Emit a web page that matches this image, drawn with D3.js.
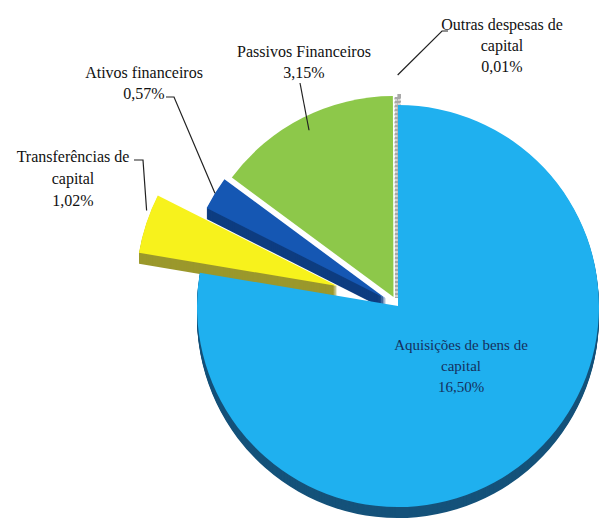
<!DOCTYPE html>
<html>
<head>
<meta charset="utf-8">
<script src="https://cdn.jsdelivr.net/npm/d3@7"></script>
<style>
  html, body { margin: 0; padding: 0; background: #fff; }
</style>
</head>
<body>
<div id="chart"></div>
<script>
// data (order = clockwise from 12 o'clock)
var categories = ['Aquisições de bens de capital', 'Transferências de capital', 'Ativos financeiros', 'Passivos Financeiros', 'Outras despesas de capital'];
var values = [16.50, 1.02, 0.57, 3.15, 0.01];
var labelRows = [
  ['Aquisições de bens de', 'capital'],
  ['Transferências de', 'capital'],
  ['Ativos financeiros'],
  ['Passivos Financeiros'],
  ['Outras despesas de', 'capital']
];

// styles
var topColors = ['#1fb0ef', '#f7f21c', '#1557b3', '#8dc84a', '#a8a8a8'];
var sideColors = ['#15527a', '#9b982c', '#0e3d80', null, null];
var explode = [0, 64, 14, 10, 8];
var drawOrder = [3, 4, 2, 1, 0]; // back to front

var width = 601, height = 525;
var cx = 398, cy = 306, radius = 201, depth = 11;
var fontFamily = '"Liberation Serif", "DejaVu Serif", "Times New Roman", serif';

// label layout: text centre x, first baseline, line height, leader points (text end, elbow), leader tip (radius delta, fraction along slice)
var labelLayout = [
  {x: 461, y: 350, lh: 21, fill: '#15305e', size: 15, leader: null},
  {x: 73, y: 162, lh: 22, fill: '#111', size: 16, leader: [[134, 160], [143, 160]], tipR: 4, tipF: 0.7},
  {x: 144, y: 78, lh: 21, fill: '#111', size: 16, leader: [[166, 97], [174, 97]], tipR: 0, tipF: 0.5},
  {x: 304, y: 57, lh: 21, fill: '#111', size: 16, leader: [[300, 83]], tipR: -14, tipF: 0.5},
  {x: 502, y: 30, lh: 21, fill: '#111', size: 16, leader: [[448, 31], [442, 31]], tipR: 22, tipF: 0.5}
];

var fmt = function (v) { return d3.format('.2f')(v).replace('.', ',') + '%'; };

var svg = d3.select('#chart')
  .append('svg')
  .attr('width', width)
  .attr('height', height);

var pie = d3.pie().sort(null).value(function (d) { return d; });
var arcs = pie(values);

var arc = d3.arc().innerRadius(0).outerRadius(radius);

var offset = function (d, i) {
  var mid = (d.startAngle + d.endAngle) / 2;
  return [Math.sin(mid) * explode[i], -Math.cos(mid) * explode[i]];
};

var g = svg.append('g').attr('transform', 'translate(' + cx + ',' + cy + ')');

drawOrder.forEach(function (i) {
  var d = arcs[i];
  var o = offset(d, i);
  if (sideColors[i]) {
    // 3D side: stacked copies below the top face
    for (var k = depth; k >= 1; k--) {
      g.append('path')
        .attr('d', arc(d))
        .attr('transform', 'translate(' + o[0] + ',' + (o[1] + k) + ')')
        .style('fill', sideColors[i]);
    }
  }
  var top = g.append('path')
    .attr('d', arc(d))
    .attr('transform', 'translate(' + o[0] + ',' + o[1] + ')')
    .style('fill', topColors[i]);
  if (i === 4) {
    top.style('stroke', topColors[i])
      .style('stroke-width', 6)
      .style('stroke-dasharray', '2,2');
  }
});

// labels
arcs.forEach(function (d, i) {
  var L = labelLayout[i];
  var rows = labelRows[i].concat([fmt(values[i])]);
  var t = svg.append('text')
    .attr('text-anchor', 'middle')
    .attr('font-family', fontFamily)
    .attr('font-size', L.size)
    .attr('fill', L.fill);
  rows.forEach(function (r, j) {
    t.append('tspan')
      .attr('x', L.x)
      .attr('y', L.y + j * L.lh)
      .text(r);
  });

  if (L.leader) {
    var ang = d.startAngle + (d.endAngle - d.startAngle) * L.tipF;
    var o = offset(d, i);
    var rr = radius + L.tipR;
    var tip = [cx + o[0] + Math.sin(ang) * rr, cy + o[1] - Math.cos(ang) * rr];
    svg.append('path')
      .attr('d', d3.line()(L.leader.concat([tip])))
      .style('fill', 'none')
      .style('stroke', '#222')
      .style('stroke-width', 1.2);
  }
});
</script>
</body>
</html>
